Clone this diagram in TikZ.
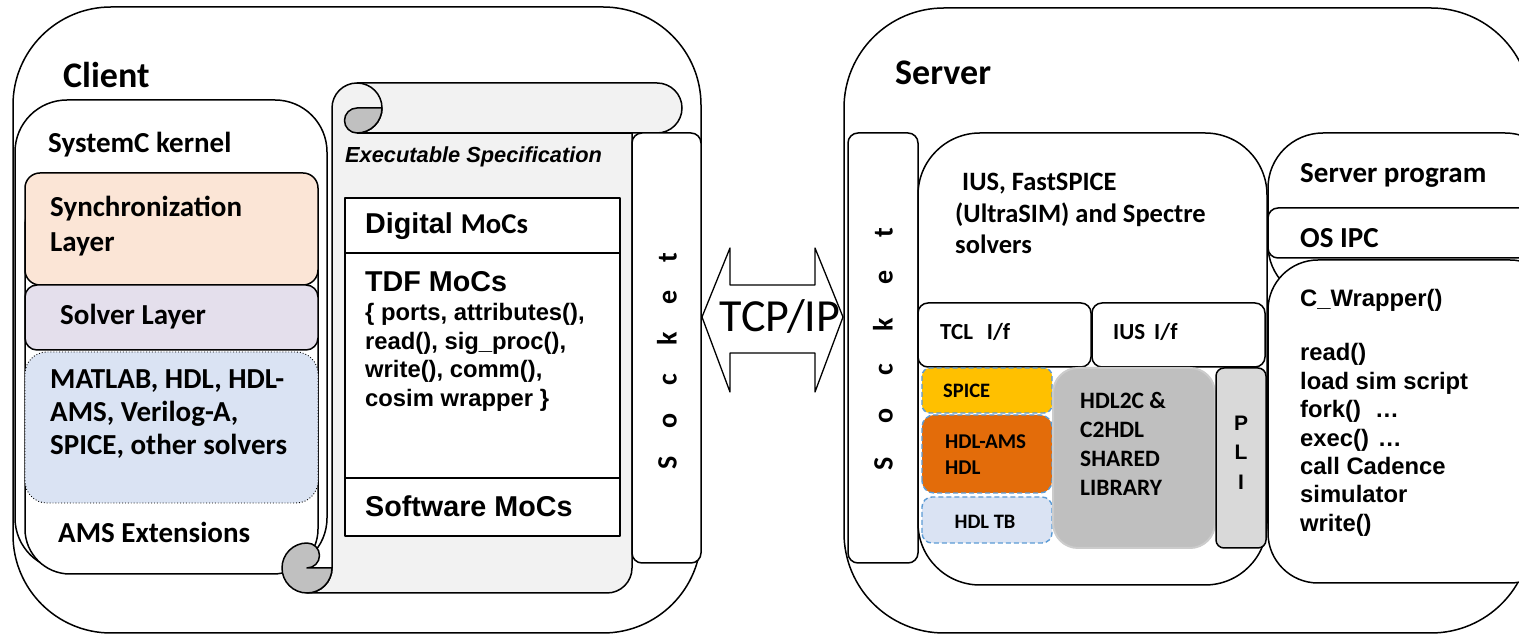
\documentclass[tikz,border=0pt]{standalone}
\usepackage{fontspec}
\newfontfamily\calfont{Carlito}
\newfontfamily\arifont{Liberation Sans}
\newcommand\cbf[2]{\calfont\bfseries\fontsize{#1}{#2}\selectfont}
\newcommand\abf[2]{\arifont\bfseries\fontsize{#1}{#2}\selectfont}
\definecolor{peach}{HTML}{FBE5D6}
\definecolor{lavender}{HTML}{E4DFEC}
\definecolor{paleblue}{HTML}{DAE3F3}
\definecolor{scrollgray}{HTML}{F2F2F2}
\definecolor{curlgray}{HTML}{C0C0C0}
\definecolor{spiceyellow}{HTML}{FFC000}
\definecolor{amsorange}{HTML}{E36C0A}
\definecolor{dashblue}{HTML}{5B9BD5}
\definecolor{libgray}{HTML}{BFBFBF}
\definecolor{pligray}{HTML}{D9D9D9}
\begin{document}
\begin{tikzpicture}[x=1pt,y=1pt,line join=round,
  outline/.style={draw=black,line width=1.5pt},
  dashbox/.style={draw=dashblue,line width=1.4pt,dash pattern=on 5pt off 3pt},
  lbl/.style={inner sep=0pt,anchor=west,align=left},
  ctr/.style={inner sep=0pt,align=center}]
\useasboundingbox (0,0) rectangle (1519,637);

% ---------------- Client ----------------
\draw[outline,fill=white,rounded corners=98pt] (13,4) rectangle (701,630);
\draw[outline,fill=white,rounded corners=52pt] (15,67) rectangle (327,537);
\draw[outline,fill=white,rounded corners=45pt] (25,63) rectangle (318,455);
\draw[outline,fill=peach,rounded corners=15pt] (25,352) rectangle (318,464);
\draw[outline,fill=lavender,rounded corners=12pt] (25,287) rectangle (318,352);
\draw[black,line width=0.9pt,dotted,fill=paleblue,rounded corners=22pt] (25,134) rectangle (318,285);

\node[lbl,font=\cbf{36}{40}] (client) at (63,562) {Client};
\node[lbl,font=\cbf{29}{35}] (kernel) at (48,492) {SystemC kernel};
\node[lbl,font=\cbf{29}{35}] (sync) at (50,411) {Synchronization\\Layer};
\node[lbl,font=\cbf{29}{35}] (solver) at (60,320) {Solver Layer};
\node[lbl,font=\cbf{29}{33}] (others) at (50,223) {MATLAB, HDL, HDL-\\AMS, Verilog-A,\\SPICE, other solvers};
\node[lbl,font=\cbf{29}{35}] (amsext) at (58,105) {AMS Extensions};

% executable specification scroll
\path[outline,fill=scrollgray] (332,529) -- (332,69)
  arc[start angle=0,end angle=-90,radius=25pt] -- (607,44)
  arc[start angle=-90,end angle=0,radius=25pt] -- (632,504) -- (657,504)
  arc[start angle=-90,end angle=90,radius=25pt] -- (357,554)
  arc[start angle=90,end angle=180,radius=25pt] -- cycle;
\draw[outline] (357,504) -- (632,504);
\draw[outline] (357,554) arc[start angle=90,end angle=-90,radius=25pt];
\draw[outline,fill=curlgray] (357,529) -- (382,529)
  arc[start angle=0,end angle=-90,radius=25pt]
  arc[start angle=270,end angle=90,radius=12.5pt] -- cycle;
\draw[outline,fill=curlgray] (332,69)
  arc[start angle=0,end angle=-270,radius=25pt]
  arc[start angle=90,end angle=-90,radius=12.5pt] -- cycle;

\node[lbl,font=\arifont\bfseries\itshape\fontsize{21.8}{25}\selectfont] (spec) at (345,480) {Executable Specification};

\draw[outline,fill=white] (345,101) rectangle (620,439);
\draw[outline] (345,384) -- (620,384);
\draw[outline] (345,159) -- (620,159);
\node[lbl] (digital) at (365,411) {\abf{28.7}{32}Digital {\cbf{28.7}{32}MoCs}};
\node[lbl,font=\abf{28.7}{32}] (tdf) at (365,355) {TDF MoCs};
\node[lbl,font=\abf{23.8}{28.5}] (tdfbody) at (365,279.5) {\{ ports, attributes(),\\read(), sig\_proc(),\\write(), comm(),\\cosim wrapper \}};
\node[lbl,font=\abf{28.7}{32}] (software) at (365,131) {Software MoCs};

% client socket
\draw[outline,fill=white,rounded corners=10pt] (632,74) rectangle (701,504);
\node[ctr,rotate=90,font=\cbf{28}{30}] (csock) at (667,276)
  {S\hspace{28pt}o\hspace{28pt}c\hspace{28pt}k\hspace{28pt}e\hspace{28pt}t};

% ---------------- link ----------------
\draw[line width=1.3pt,fill=white] (702,320) -- (730,389) -- (730,352) -- (815,352)
  -- (815,389) -- (843,320) -- (815,245) -- (815,284) -- (730,284) -- (730,245) -- cycle;
\node[ctr,font=\calfont\fontsize{46}{46}\selectfont] (tcp) at (780,320) {TCP/IP};

% ---------------- Server ----------------
\draw[outline,fill=white,rounded corners=100pt] (844,4) rectangle (1531,629);
\node[lbl,font=\cbf{36}{40}] (server) at (895,564) {Server};

\draw[outline,fill=white,rounded corners=10pt] (848,74) rectangle (918,504);
\node[ctr,rotate=90,font=\cbf{28}{30}] (ssock) at (883,288)
  {S\hspace{33pt}o\hspace{33pt}c\hspace{33pt}k\hspace{33pt}e\hspace{33pt}t};

\draw[outline,fill=white,rounded corners=62pt] (918,52) rectangle (1267,504);
\node[lbl,font=\cbf{26.5}{31.5}] (ius) at (955,423.5) {\hspace*{7pt}IUS, FastSPICE\\(UltraSIM) and Spectre\\solvers};

\draw[outline,fill=white,rounded corners=10pt] (918,270) rectangle (1091,334);
\draw[outline,fill=white,rounded corners=10pt] (1092,270) rectangle (1265,334);
\node[lbl,font=\cbf{23}{26}] (tcl) at (940,305) {TCL\hspace{14pt}I/f};
\node[lbl,font=\cbf{23}{26}] (iusif) at (1113,305) {IUS\hspace{9pt}I/f};

\draw[dashbox,fill=spiceyellow,rounded corners=8pt] (922,224) rectangle (1052,269);
\draw[dashbox,fill=amsorange,rounded corners=12pt] (922,144) rectangle (1052,222);
\draw[dashbox,fill=paleblue,rounded corners=10pt] (922,94) rectangle (1052,140);
\node[lbl,font=\cbf{20.5}{24}] (spice) at (943,246) {SPICE};
\node[lbl,font=\cbf{21}{26}] (hdlams) at (945,182) {HDL-AMS\\HDL};
\node[ctr,font=\cbf{20.5}{24}] (hdltb) at (985,115) {HDL TB};

\draw[draw=libgray!80!white,line width=2pt,fill=libgray,rounded corners=25pt] (1053,89) rectangle (1215,269);
\node[lbl,font=\cbf{23.5}{29}] (lib) at (1080,193.5) {HDL2C \&\\C2HDL\\SHARED\\LIBRARY};
\draw[outline,fill=pligray,rounded corners=8pt] (1216,89) rectangle (1266,269);
\node[ctr,font=\abf{21}{29.5}] (pli) at (1241,184.5) {P\\L\\I};

\draw[outline,fill=white,rounded corners=55pt] (1268,337) rectangle (1560,504);
\draw[outline,fill=white,rounded corners=10pt] (1268,379) rectangle (1560,429);
\draw[outline,fill=white,rounded corners=50pt] (1268,54) rectangle (1560,377);
\node[lbl,font=\cbf{29}{33}] (sprog) at (1300,462) {Server program};
\node[lbl,font=\cbf{29}{33}] (osipc) at (1300,399) {OS IPC};
\node[lbl,font=\abf{23.8}{28.4}] (wrapper) at (1300,337) {C\_Wrapper()};
\node[lbl,font=\abf{23.8}{28.4}] (wrapbody) at (1300,197) {read()\\load sim script\\fork()\hspace{14pt}…\\exec()\hspace{9pt}…\\call Cadence\\simulator\\write()};
\end{tikzpicture}
\end{document}
